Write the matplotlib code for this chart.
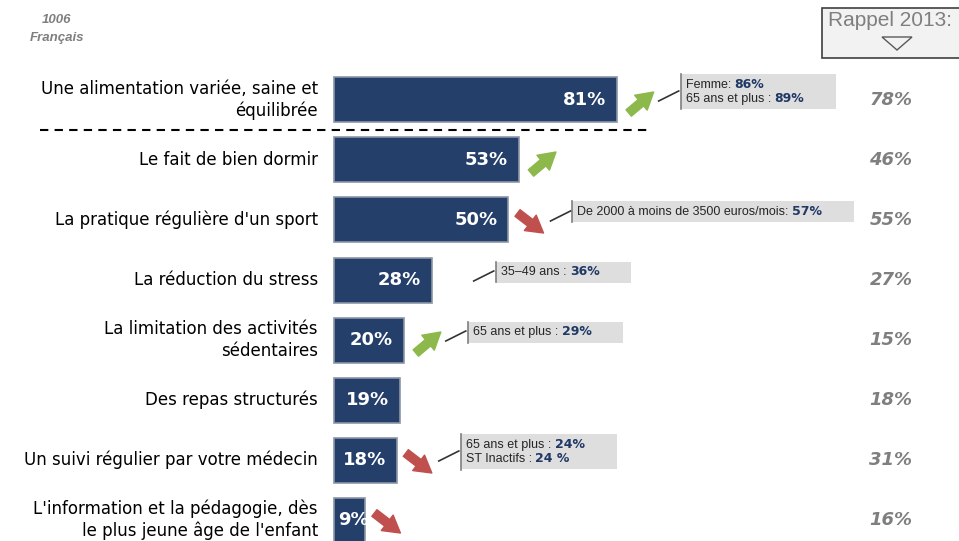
import matplotlib
matplotlib.use('Agg')
import matplotlib.pyplot as plt
from matplotlib.patches import Rectangle, Polygon

# données
categories = [
    "Une alimentation variée, saine et\néquilibrée",
    "Le fait de bien dormir",
    "La pratique régulière d'un sport",
    "La réduction du stress",
    "La limitation des activités\nsédentaires",
    "Des repas structurés",
    "Un suivi régulier par votre médecin",
    "L'information et la pédagogie, dès\nle plus jeune âge de l'enfant",
]
values_2015 = [81, 53, 50, 28, 20, 19, 18, 9]
values_2013 = [78, 46, 55, 27, 15, 18, 31, 16]
trends = ['up', 'up', 'down', None, 'up', None, 'down', 'down']

# sous-populations (ligne, [(texte, valeur en gras)])
notes = [
    (0, [("Femme: ", "86%"), ("65 ans et plus : ", "89%")]),
    (2, [("De 2000 à moins de 3500 euros/mois: ", "57%")]),
    (3, [("35–49 ans : ", "36%")]),
    (4, [("65 ans et plus : ", "29%")]),
    (6, [("65 ans et plus : ", "24%"), ("ST Inactifs : ", "24 %")]),
]

W, H = 959, 541
X0, PPX = 334, 3.49     # pixel du 0 %, pixels par %
Y0, ROW = 100, 60       # centre de la 1re barre, pas entre barres

def dx(p):
    return p / PPX

def dy(p):
    return p / ROW

NAVY = '#243F6A'
GREEN = '#8DB84B'
RED = '#C0504D'
GREY = '#7f7f7f'

fig = plt.figure(figsize=(W / 100, H / 100), dpi=100)
ax = fig.add_axes([0, 0, 1, 1])
ax.set_xlim(-X0 / PPX, (W - X0) / PPX)
ax.set_ylim((H - Y0) / ROW, -Y0 / ROW)
ax.axis('off')

y = list(range(len(categories)))

ax.barh(y, values_2015, height=0.75, color=NAVY, edgecolor='#8c96a6',
        linewidth=1.2, zorder=2)

for i, (cat, v) in enumerate(zip(categories, values_2015)):
    ax.text(dx(-16), i, cat, ha='right', va='center', fontsize=12,
            family='DejaVu Sans', color='black', linespacing=1.25)
    ax.text(max(v - dx(11), dx(35)), i, f"{v}%", ha='right', va='center',
            fontsize=13, fontweight='bold', color='white', zorder=3)
    ax.text(dx(891 - X0), i, f"{values_2013[i]}%", ha='center', va='center',
            fontsize=13, fontweight='bold', fontstyle='italic', color=GREY)

    t = trends[i]
    if t == 'up':
        start, end = (v + dx(12), i + dy(13)), (v + dx(37), i - dy(8))
        col = GREEN
    elif t == 'down':
        start, end = (v + dx(9), i - dy(7)), (v + dx(35), i + dy(13))
        col = RED
    else:
        continue
    ax.annotate('', xy=end, xytext=start,
                arrowprops=dict(arrowstyle='simple,head_length=0.6,head_width=0.7,tail_width=0.3',
                                color=col, mutation_scale=20, shrinkA=0, shrinkB=0),
                zorder=3)

# ligne pointillée sous le 1er item
ax.plot([dx(40 - X0), dx(650 - X0)], [0.5, 0.5], color='black', lw=1.5,
        ls=(0, (4, 3)))

# encadrés des sous-populations
renderer = fig.canvas.get_renderer()
inv = ax.transData.inverted()
for row, lines in notes:
    xl = values_2015[row] + dx(64)
    yc = row - dy(8)
    n = len(lines)
    texts = []
    for k, (norm, bold) in enumerate(lines):
        yy = yc + dy(14 * (k - (n - 1) / 2))
        tn = ax.text(xl + dx(5), yy, norm, fontsize=9, va='center', ha='left',
                     family='Liberation Sans', color='#262626', zorder=5)
        tb = ax.annotate(bold, xy=(1, 0), xycoords=tn, va='bottom', ha='left',
                         fontsize=9, fontweight='bold', family='DejaVu Sans',
                         color='#1F3864', zorder=5)
        texts += [tn, tb]
    right = max(tt.get_window_extent(renderer).x1 for tt in texts) + 32
    xr = inv.transform((right, 0))[0]
    h = dy(14 * n + 7)
    ax.add_patch(Rectangle((xl, yc - h / 2), xr - xl, h, facecolor='#dedede',
                           edgecolor='none', zorder=4))
    ax.plot([xl, xl], [yc - h / 2, yc + h / 2], color=GREY, lw=1.2, zorder=5)
    ax.plot([xl - dx(22), xl - dx(2)], [yc + dy(9), yc - dy(1)],
            color='#333333', lw=1.2, zorder=5)

# "Rappel 2013:"
fig.patches.append(Rectangle((822 / W, 1 - 58 / H), (W - 821) / W, 50 / H,
                             transform=fig.transFigure, facecolor='#f2f2f2',
                             edgecolor='#404040', lw=1.2))
fig.text(890 / W, 1 - 21 / H, "Rappel 2013:", ha='center', va='center',
         fontsize=15, family='Liberation Sans', color=GREY)
fig.patches.append(Polygon([(882 / W, 1 - 37 / H), (912 / W, 1 - 37 / H),
                            (897 / W, 1 - 50 / H)], closed=True, fill=False,
                           edgecolor='#595959', lw=1, transform=fig.transFigure))

# base
fig.text(57 / W, 1 - 20 / H, "1006", ha='center', va='center', fontsize=9.5,
         fontstyle='italic', fontweight='bold', family='Liberation Sans', color=GREY)
fig.text(57 / W, 1 - 38 / H, "Français", ha='center', va='center', fontsize=9.5,
         fontstyle='italic', fontweight='bold', family='Liberation Sans', color=GREY)

fig.savefig('out.png', dpi=100)
